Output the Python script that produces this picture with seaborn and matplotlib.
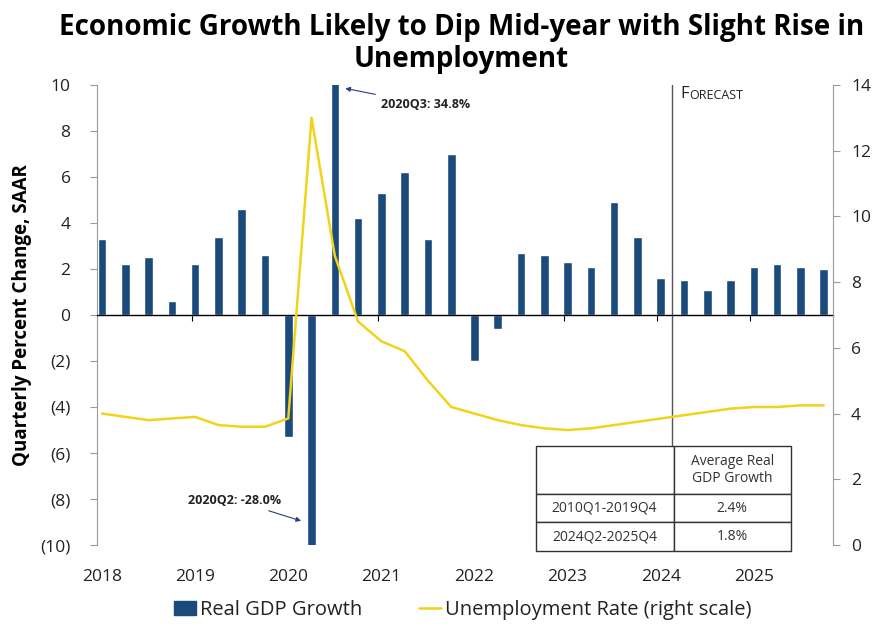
import numpy as np
import pandas as pd
import matplotlib
matplotlib.use("Agg")
import matplotlib.pyplot as plt
import seaborn as sns
from matplotlib.patches import Patch
from matplotlib.lines import Line2D

# Данные: квартальный рост реального ВВП (SAAR, %) и уровень безработицы (%)
quarters = [f"{y}Q{q}" for y in range(2018, 2026) for q in range(1, 5)]
gdp_growth = [3.3, 2.2, 2.5, 0.6,
              2.2, 3.4, 4.6, 2.6,
              -5.3, -28.0, 34.8, 4.2,
              5.3, 6.2, 3.3, 7.0,
              -2.0, -0.6, 2.7, 2.6,
              2.3, 2.1, 4.9, 3.4,
              1.6, 1.5, 1.1, 1.5,
              2.1, 2.2, 2.1, 2.0]
unemployment = [4.0, 3.9, 3.8, 3.85,
                3.9, 3.65, 3.6, 3.6,
                3.85, 13.0, 8.8, 6.8,
                6.2, 5.9, 5.0, 4.2,
                4.0, 3.8, 3.65, 3.55,
                3.5, 3.55, 3.65, 3.75,
                3.85, 3.95, 4.05, 4.15,
                4.2, 4.2, 4.25, 4.25]
year_labels = [str(y) for y in range(2018, 2026)]
forecast_start = "2024Q2"

table_rows = ["2010Q1-2019Q4", "2024Q2-2025Q4"]
table_vals = ["2.4%", "1.8%"]
table_header = "Average Real\nGDP Growth"

navy = "#1B4A7C"
yellow = "#F0D31A"
grey = "#9A9A9A"
text_c = "#222222"

df = pd.DataFrame({"quarter": quarters, "gdp": gdp_growth, "unemp": unemployment})
df["pos"] = np.arange(len(df))


def main():
    sns.set_theme(style="white")
    plt.rcParams["font.family"] = ["Open Sans", "DejaVu Sans"]

    fig = plt.figure(figsize=(8.81, 6.29), dpi=100)
    ax = fig.add_axes([0.110, 0.1335, 0.8355, 0.7315])

    sns.barplot(data=df, x="quarter", y="gdp", color=navy, saturation=1,
                width=0.37, ax=ax)
    ax.set_ylim(-10, 10)
    ax.set_xlim(-0.22, 31.4)
    ax.set_xlabel("")
    ax.set_ylabel("Quarterly Percent Change, SAAR", fontsize=13.5,
                  fontweight="bold", color="black", labelpad=6)

    yt = np.arange(-10, 11, 2)
    ax.set_yticks(yt)
    ax.set_yticklabels([f"({abs(v)})" if v < 0 else str(v) for v in yt],
                       fontsize=12.5, color=text_c)
    ax.tick_params(axis="y", left=True, direction="out", length=5,
                   color=grey, width=0.8, pad=14)

    # нулевая линия с засечками годов
    ax.spines["bottom"].set_position(("data", 0))
    ax.spines["bottom"].set_color("black")
    ax.spines["bottom"].set_linewidth(1)
    ax.set_xticks(np.arange(3.85, 31, 4))
    ax.set_xticklabels([])
    ax.tick_params(axis="x", bottom=True, direction="out", length=4,
                   color="black", width=0.8)
    ax.spines["left"].set_color(grey)
    ax.spines["left"].set_linewidth(0.8)
    ax.spines["top"].set_visible(False)
    ax.spines["right"].set_visible(False)

    sec = ax.secondary_xaxis("bottom")
    sec.set_xticks(np.arange(0, len(quarters), 4))
    sec.set_xticklabels(year_labels, fontsize=12.5, color=text_c)
    sec.tick_params(length=0, pad=17)
    sec.spines["bottom"].set_visible(False)

    # безработица — правая шкала
    ax2 = ax.twinx()
    sns.lineplot(data=df, x="pos", y="unemp", color=yellow, linewidth=1.8, ax=ax2)
    ax2.set_ylim(0, 14)
    ax2.set_xlim(-0.22, 31.4)
    ax2.set_ylabel("")
    ax2.set_yticks(np.arange(0, 15, 2))
    ax2.tick_params(axis="y", right=True, direction="out", length=5,
                    color=grey, width=0.8, labelsize=12.5, labelcolor=text_c, pad=8)
    for s in ["top", "bottom", "left"]:
        ax2.spines[s].set_visible(False)
    ax2.spines["right"].set_color(grey)
    ax2.spines["right"].set_linewidth(0.8)

    # граница прогноза
    fx = quarters.index(forecast_start) - 0.5
    ax.axvline(fx, color="#555555", lw=1, zorder=1)
    t1 = ax.text(fx + 0.35, 9.45, "F", fontsize=12, color=text_c, va="baseline")
    ax.annotate("ORECAST", xy=(1, 0), xycoords=t1, fontsize=9, color=text_c,
                va="bottom", ha="left")

    # подписи выбросов
    i3 = quarters.index("2020Q3")
    i2 = quarters.index("2020Q2")
    ax.annotate(f"2020Q3: {gdp_growth[i3]:.1f}%", xy=(i3 + 0.45, 9.85),
                xytext=(i3 + 2.0, 9.15), fontsize=9, fontweight="bold",
                color=text_c, ha="left", va="center",
                arrowprops=dict(arrowstyle="-|>", color="#2D3C7C", lw=0.8,
                                mutation_scale=7, shrinkA=2, shrinkB=0))
    ax.annotate(f"2020Q2: {gdp_growth[i2]:.1f}%", xy=(i2 - 0.45, -8.95),
                xytext=(i2 - 1.3, -8.05), fontsize=9, fontweight="bold",
                color=text_c, ha="right", va="center",
                arrowprops=dict(arrowstyle="-|>", color="#2D3C7C", lw=0.8,
                                mutation_scale=7, shrinkA=2, shrinkB=0))

    # таблица со средними
    cells = [["", table_header]] + [[r, v] for r, v in zip(table_rows, table_vals)]
    tab = ax2.table(cellText=cells, colWidths=[0.541, 0.459], cellLoc="center",
                    bbox=[0.596, -0.013, 0.3465, 0.228], zorder=5)
    tab.auto_set_font_size(False)
    tab.set_fontsize(10)
    for (r, c), cell in tab.get_celld().items():
        cell.set_edgecolor("#333333")
        cell.set_linewidth(1.0)
        cell.set_facecolor("white")
        cell.set_height(0.104 if r == 0 else 0.0625)
        cell.get_text().set_color("#333333")

    fig.suptitle("Economic Growth Likely to Dip Mid-year with Slight Rise in\nUnemployment",
                 x=0.524, y=0.98, fontsize=20, fontweight="bold", color="black",
                 linespacing=1.15)

    handles = [Patch(facecolor=navy, edgecolor=navy),
               Line2D([0], [0], color=yellow, lw=1.8)]
    fig.legend(handles, ["Real GDP Growth", "Unemployment Rate (right scale)"],
               loc="center", bbox_to_anchor=(0.525, 0.03), ncol=2, frameon=False,
               fontsize=14.5, handlelength=1.1, handletextpad=0.2, columnspacing=2.8,
               labelcolor=text_c)

    fig.savefig("out.png", dpi=100)
    plt.close("all")


if __name__ == "__main__":
    main()
